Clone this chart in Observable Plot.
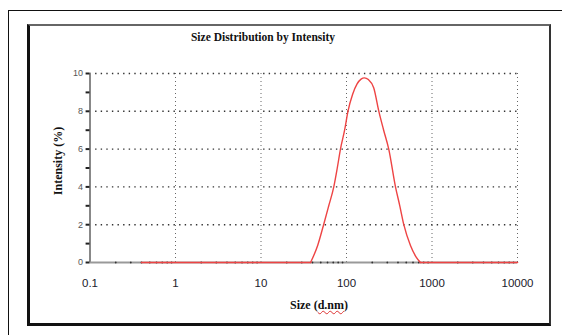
<!DOCTYPE html>
<html><head><meta charset="utf-8">
<script src="https://cdn.jsdelivr.net/npm/d3@7"></script>
<script src="https://cdn.jsdelivr.net/npm/@observablehq/plot@0.6"></script>
<style>
html,body{margin:0;padding:0;background:#fff;}
#wrap{position:relative;width:562px;height:335px;overflow:hidden;background:#fff;}
.abs{position:absolute;}
.serif{font-family:"Liberation Serif","DejaVu Serif",serif;font-weight:bold;color:#111;}
</style></head>
<body>
<div id="wrap">
  <div class="abs" style="left:8px;top:10px;width:600px;height:400px;border-left:1px solid #111;border-top:1px solid #111;"></div>
  <div class="abs" style="left:27px;top:24px;width:519px;height:297px;border-left:3px solid #111;border-top:2px solid #666;border-right:2px solid #333;border-bottom:3px solid #111;"></div>
  <div id="chart" class="abs" style="left:0;top:0;"></div>
  <div class="abs serif" style="left:0;width:526px;top:31px;text-align:center;font-size:11.5px;">Size Distribution by Intensity</div>
  <div class="abs serif" style="left:58px;top:161px;font-size:12px;transform:translate(-50%,-50%) rotate(-90deg);white-space:nowrap;">Intensity (%)</div>
  <div class="abs serif" style="left:290px;top:298px;font-size:12px;white-space:nowrap;">Size (<span style="text-decoration:underline wavy #d33;text-decoration-thickness:1px;">d.nm</span>)</div>
</div>
<script>
// Tick values and labels
const xTicks = [0.1, 1, 10, 100, 1000, 10000];
const xTickLabels = ["0.1", "1", "10", "100", "1000", "10000"];
const yGrid = [2, 4, 6, 8, 10];
const yTicks = [0, 1, 2, 3, 4, 5, 6, 7, 8, 9, 10];
const yTickLabels = ["0", "2", "4", "6", "8", "10"];
const yLabelValues = [0, 2, 4, 6, 8, 10];
const xMinor = [0.2,0.3,0.4,0.5,0.6,0.7,0.8,0.9,2,3,4,5,6,7,8,9,20,30,40,50,60,70,80,90,200,300,400,500,600,700,800,900,2000,3000,4000,5000,6000,7000,8000,9000];

// Intensity distribution series (size in d.nm, intensity in %)
const sizeLeft = [0.4, 38];
const intensityLeft = [0, 0];
const sizeCurve = [38, 46, 54, 62, 71, 78, 85, 95, 104, 118, 133, 148, 162, 180, 208, 239, 272, 312, 374, 420, 468, 560, 650, 733];
const intensityCurve = [0, 0.9, 2, 3, 4, 5, 6, 7, 8, 8.9, 9.45, 9.7, 9.77, 9.68, 9.25, 8, 7, 6, 4, 3, 2, 0.9, 0.3, 0];
const sizeRight = [733, 10000];
const intensityRight = [0, 0];

const curve = sizeCurve.map((s, i) => ({x: s, y: intensityCurve[i]}));
const baseL = sizeLeft.map((s, i) => ({x: s, y: intensityLeft[i]}));
const baseR = sizeRight.map((s, i) => ({x: s, y: intensityRight[i]}));

const chart = Plot.plot({
  width: 562, height: 335,
  marginLeft: 89.5, marginRight: 45, marginTop: 73, marginBottom: 73,
  x: {type: "log", domain: [0.1, 10000], axis: null},
  y: {domain: [0, 10], axis: null},
  style: {background: "transparent", overflow: "visible"},
  marks: [
    Plot.ruleY(yGrid, {x1: 0.1, x2: 10000, stroke: "#333", strokeWidth: 1.4, strokeDasharray: "1.4,4.2"}),
    Plot.ruleX(xTicks.slice(1), {y1: 0, y2: 10, stroke: "#666", strokeWidth: 1, strokeDasharray: "1,3"}),
    Plot.ruleX([0.1], {y1: 0, y2: 10, stroke: "#888", strokeWidth: 2}),
    Plot.ruleY([0], {x1: 0.1, x2: 10000, stroke: "#999", strokeWidth: 2}),
    Plot.ruleY(yTicks, {x1: 0.09, x2: 0.1, stroke: "#222", strokeWidth: 2}),
    Plot.dot(xMinor, {x: d => d, y: 0, r: 0.9, fill: "#333", stroke: null}),
    Plot.line(baseL, {x: "x", y: "y", stroke: "#ee4444", strokeWidth: 1.6}),
    Plot.line(baseR, {x: "x", y: "y", stroke: "#ee4444", strokeWidth: 1.6}),
    Plot.line(curve, {x: "x", y: "y", stroke: "#ee4444", strokeWidth: 1.4, curve: "monotone-x"}),
    Plot.text(xTicks, {x: d => d, y: 0, text: (d, i) => xTickLabels[i], dy: 21, fontSize: 11.5, fill: "#1a1a2a", fontFamily: "Liberation Sans, Arial, sans-serif"}),
    Plot.text(yLabelValues, {x: 0.1, y: d => d, text: (d, i) => yTickLabels[i], dx: -7, textAnchor: "end", fontSize: 9, fill: "#555", fontFamily: "Liberation Sans, Arial, sans-serif"})
  ]
});
document.getElementById("chart").appendChild(chart);
</script>
</body></html>
